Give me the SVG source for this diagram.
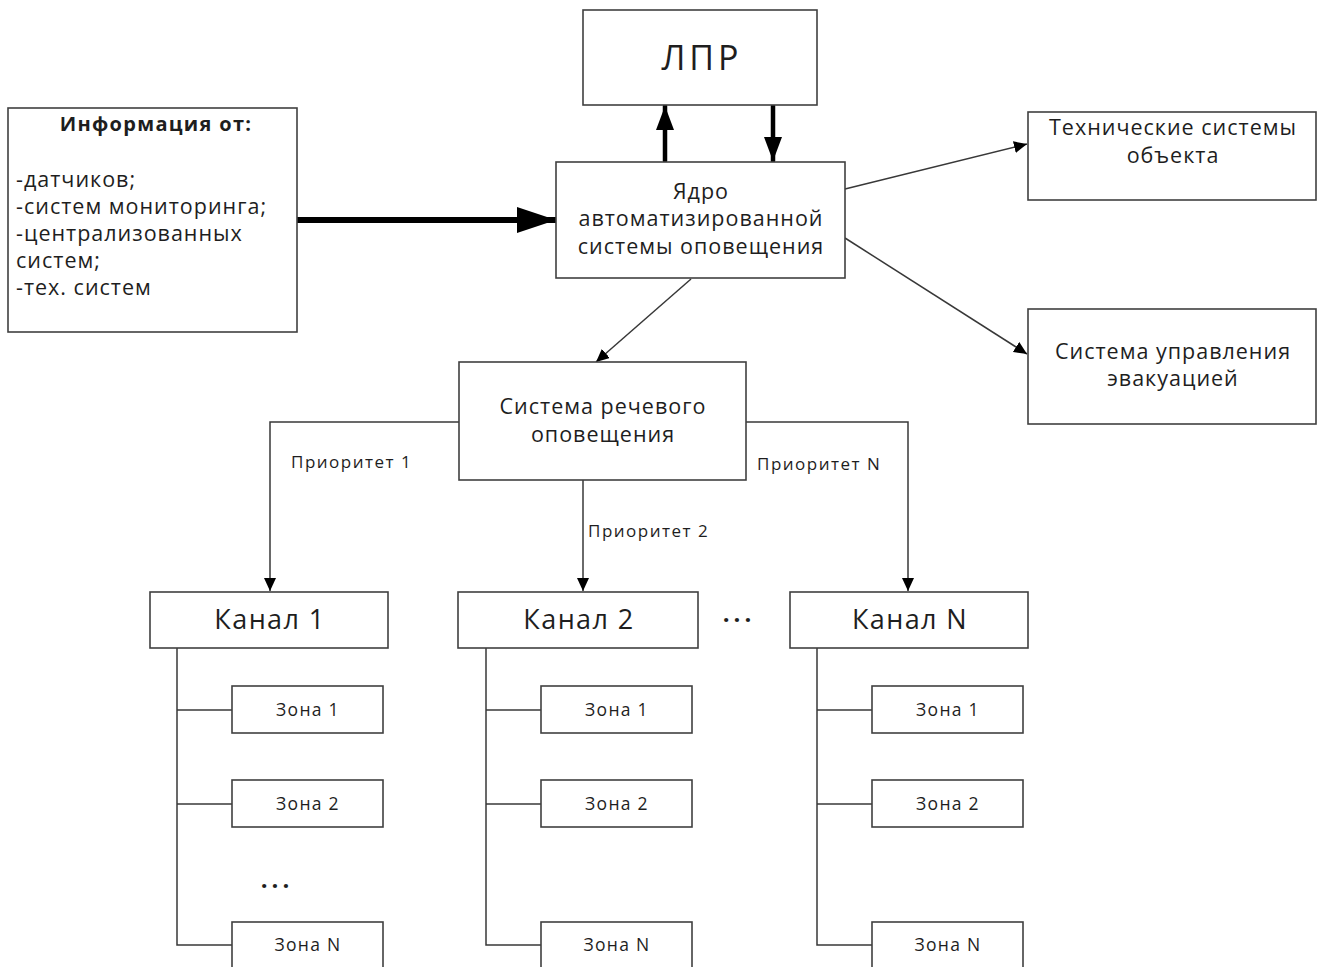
<svg xmlns="http://www.w3.org/2000/svg" width="1318" height="967" viewBox="0 0 1318 967">
  <style>
    .box { fill: #ffffff; stroke: #404040; stroke-width: 1.6; }
    .ln { fill: none; stroke: #383838; stroke-width: 1.5; }
    .thick { fill: none; stroke: #000000; stroke-linecap: round; }
    text { font-family: "Open Sans", Lato, "Liberation Sans", sans-serif; fill: #1e1e1e; }
    .c { text-anchor: middle; }
    .t22 { font-size: 21.5px; letter-spacing: 1px; }
    .zone { font-size: 17.5px; letter-spacing: 1.3px; }
    .prio { font-size: 17px; letter-spacing: 1.5px; }
    .chan { font-size: 27px; letter-spacing: 1.4px; }
    .dots { font-size: 24px; font-weight: bold; letter-spacing: 4px; }
  </style>
  <defs>
    <marker id="ah" markerUnits="userSpaceOnUse" markerWidth="14" markerHeight="12" refX="13" refY="6" orient="auto">
      <path d="M0,0 L13,6 L0,12 Z" fill="#000"/>
    </marker>
    <marker id="ahBig" markerUnits="userSpaceOnUse" markerWidth="40" markerHeight="26" refX="39" refY="13" orient="auto">
      <path d="M0,0 L39,13 L0,26 Z" fill="#000"/>
    </marker>
    <marker id="ahMid" markerUnits="userSpaceOnUse" markerWidth="25" markerHeight="18" refX="24" refY="9" orient="auto">
      <path d="M0,0 L24,9 L0,18 Z" fill="#000"/>
    </marker>
  </defs>
  <rect width="1318" height="967" fill="#ffffff"/>

  <!-- connectors -->
  <g id="connectors">
    <line class="thick" x1="294" y1="220" x2="556" y2="220" stroke-width="6" marker-end="url(#ahBig)"/>
    <line class="thick" x1="665" y1="161" x2="665" y2="106" stroke-width="4.5" marker-end="url(#ahMid)"/>
    <line class="thick" x1="773" y1="106" x2="773" y2="161" stroke-width="4.5" marker-end="url(#ahMid)"/>
    <line class="ln" x1="845" y1="189" x2="1027" y2="144" marker-end="url(#ah)"/>
    <line class="ln" x1="845" y1="238" x2="1027" y2="354" marker-end="url(#ah)"/>
    <line class="ln" x1="691" y1="279" x2="596" y2="362" marker-end="url(#ah)"/>
    <polyline class="ln" points="459,422 270,422 270,591" marker-end="url(#ah)"/>
    <line class="ln" x1="583" y1="480" x2="583" y2="591" marker-end="url(#ah)"/>
    <polyline class="ln" points="746,422 908,422 908,591" marker-end="url(#ah)"/>
    <!-- channel 1 bus -->
    <polyline class="ln" points="177,648 177,945 232,945"/>
    <line class="ln" x1="177" y1="710" x2="232" y2="710"/>
    <line class="ln" x1="177" y1="804" x2="232" y2="804"/>
    <!-- channel 2 bus -->
    <polyline class="ln" points="486,648 486,945 541,945"/>
    <line class="ln" x1="486" y1="710" x2="541" y2="710"/>
    <line class="ln" x1="486" y1="804" x2="541" y2="804"/>
    <!-- channel N bus -->
    <polyline class="ln" points="817,648 817,945 872,945"/>
    <line class="ln" x1="817" y1="710" x2="872" y2="710"/>
    <line class="ln" x1="817" y1="804" x2="872" y2="804"/>
    <text class="prio" x="291" y="468">Приоритет 1</text>
    <text class="prio" x="588" y="537">Приоритет 2</text>
    <text class="prio" x="757" y="470">Приоритет N</text>
  </g>

  <g id="lpr">
    <rect class="box" x="583" y="10" width="234" height="95"/>
    <text class="c" x="702" y="70" font-size="34" letter-spacing="4">ЛПР</text>
  </g>

  <g id="info">
    <rect class="box" x="8" y="108" width="289" height="224"/>
    <text class="c" x="156" y="131" font-size="20" font-weight="bold" letter-spacing="1.3">Информация от:</text>
    <text class="t22" x="16" y="187" letter-spacing="1.1">-датчиков;</text>
    <text class="t22" x="16" y="214" letter-spacing="1.1">-систем мониторинга;</text>
    <text class="t22" x="16" y="241" letter-spacing="1.1">-централизованных</text>
    <text class="t22" x="16" y="268" letter-spacing="1.1">систем;</text>
    <text class="t22" x="16" y="295" letter-spacing="1.1">-тех. систем</text>
  </g>

  <g id="core">
    <rect class="box" x="556" y="162" width="289" height="116"/>
    <text class="c t22" x="701" y="199">Ядро</text>
    <text class="c t22" x="701" y="226">автоматизированной</text>
    <text class="c t22" x="701" y="254">системы оповещения</text>
  </g>

  <g id="tech">
    <rect class="box" x="1028" y="112" width="288" height="88"/>
    <text class="c t22" x="1173" y="135">Технические системы</text>
    <text class="c t22" x="1173" y="163">объекта</text>
  </g>

  <g id="evac">
    <rect class="box" x="1028" y="309" width="288" height="115"/>
    <text class="c t22" x="1173" y="359">Система управления</text>
    <text class="c t22" x="1173" y="386">эвакуацией</text>
  </g>

  <g id="speech">
    <rect class="box" x="459" y="362" width="287" height="118"/>
    <text class="c t22" x="603" y="414">Система речевого</text>
    <text class="c t22" x="603" y="442">оповещения</text>
  </g>

  <g id="ch1">
    <rect class="box" x="150" y="592" width="238" height="56"/>
    <text class="c chan" x="270" y="629">Канал 1</text>
  </g>
  <g id="ch2">
    <rect class="box" x="458" y="592" width="240" height="56"/>
    <text class="c chan" x="579" y="629">Канал 2</text>
  </g>
  <g id="chN">
    <rect class="box" x="790" y="592" width="238" height="56"/>
    <text class="c chan" x="910" y="629">Канал N</text>
  </g>
  <text x="739" y="622" class="c dots">...</text>

  <g id="ch1-z1"><rect class="box" x="232" y="686" width="151" height="47"/><text class="c zone" x="308" y="716">Зона 1</text></g>
  <g id="ch1-z2"><rect class="box" x="232" y="780" width="151" height="47"/><text class="c zone" x="308" y="810">Зона 2</text></g>
  <g id="ch1-zN"><rect class="box" x="232" y="922" width="151" height="60"/><text class="c zone" x="308" y="951">Зона N</text></g>
  <text x="277" y="888" class="c dots">...</text>

  <g id="ch2-z1"><rect class="box" x="541" y="686" width="151" height="47"/><text class="c zone" x="617" y="716">Зона 1</text></g>
  <g id="ch2-z2"><rect class="box" x="541" y="780" width="151" height="47"/><text class="c zone" x="617" y="810">Зона 2</text></g>
  <g id="ch2-zN"><rect class="box" x="541" y="922" width="151" height="60"/><text class="c zone" x="617" y="951">Зона N</text></g>

  <g id="chN-z1"><rect class="box" x="872" y="686" width="151" height="47"/><text class="c zone" x="948" y="716">Зона 1</text></g>
  <g id="chN-z2"><rect class="box" x="872" y="780" width="151" height="47"/><text class="c zone" x="948" y="810">Зона 2</text></g>
  <g id="chN-zN"><rect class="box" x="872" y="922" width="151" height="60"/><text class="c zone" x="948" y="951">Зона N</text></g>
</svg>
